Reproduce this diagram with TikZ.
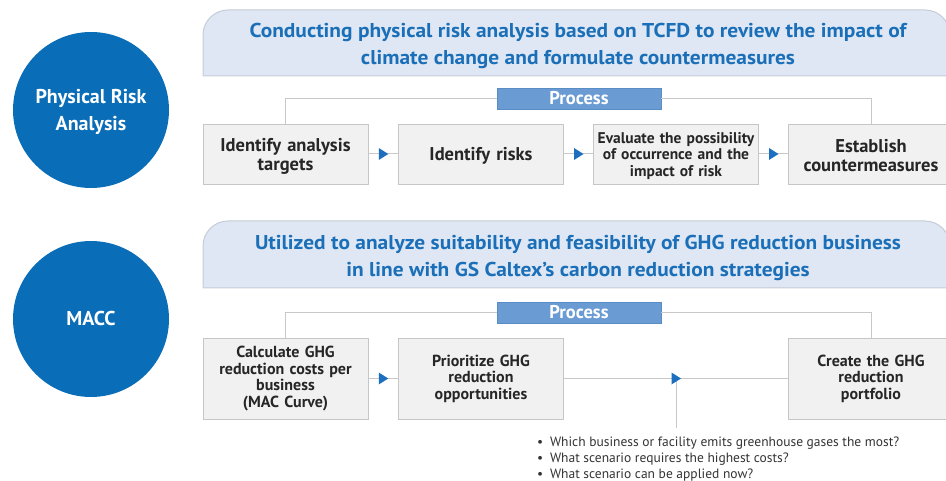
\documentclass[tikz,border=0pt]{standalone}
\usepackage{fontspec}
\setmainfont{PT Sans}
\newfontfamily\headfont[FakeStretch=1.07]{PT Sans}
\newcommand{\lowered}[2]{\raisebox{-#1}[\height][\depth]{#2}}
\begin{document}
\definecolor{circblue}{HTML}{0A6DB7}
\definecolor{bannerfill}{HTML}{DEE7F3}
\definecolor{bannerline}{HTML}{C5CCD6}
\definecolor{bannertext}{HTML}{1A6FB8}
\definecolor{procfill}{HTML}{6A9BD3}
\definecolor{procline}{HTML}{5A8CC6}
\definecolor{boxfill}{HTML}{F1F1F2}
\definecolor{boxline}{HTML}{C6C6C6}
\definecolor{linkgray}{HTML}{C8C8C8}
\definecolor{tipblue}{HTML}{1E6EC0}
\definecolor{bodytext}{HTML}{262626}
\definecolor{notetext}{HTML}{333333}
\begin{tikzpicture}[x=1pt,y=1pt,
  topic/.style={circle,fill=circblue,minimum size=156pt,inner sep=0pt},
  topiclabel/.style={text=white,align=center,inner sep=0pt,font=\fontsize{20}{27}\selectfont\bfseries},
  banner/.style={fill=bannerfill,draw=bannerline,line width=1pt},
  bannerlabel/.style={text=bannertext,align=center,font=\headfont\fontsize{20}{27}\selectfont\bfseries},
  procbox/.style={fill=procfill,draw=procline,line width=0.6pt,text=white,minimum width=164pt,
    minimum height=21pt,inner sep=0pt,font=\fontsize{18.5}{19}\selectfont\bfseries},
  stepbox/.style={fill=boxfill,draw=boxline,line width=0.8pt,text=bodytext,minimum width=165pt,
    inner sep=0pt,align=center,text width=163pt},
  bigstep/.style={stepbox,minimum height=60pt,font=\fontsize{18.5}{19}\selectfont\bfseries},
  maccstep/.style={stepbox,minimum height=81pt,font=\fontsize{16}{16.4}\selectfont\bfseries},
  link/.style={draw=linkgray,line width=1pt},
  tip/.style={fill=tipblue}]
\useasboundingbox (0,0) rectangle (946,-481);
\clip (0,0) rectangle (946,-481);

% ---- Physical risk analysis ----
\node[topic] (c1) at (91,-110) {};
\node[topiclabel] (c1t) at (91,-112) {Physical Risk\\Analysis};
\path[banner] (203,-76) -- (203,-35) arc (180:90:25) -- (925,-10) arc (90:0:25) -- (950,-76) -- cycle;
\node[bannerlabel] (h1) at (578,-45.5) {Conducting physical risk analysis based on TCFD to review the impact of\\climate change and formulate countermeasures};

\node[procbox] (p1) at (579,-98.5) {Process};
\node[bigstep] (a1) at (285.5,-154) {\lowered{2pt}{\parbox{163pt}{\centering Identify analysis\\targets}}};
\node[bigstep] (a2) at (481,-154) {\lowered{2pt}{Identify risks}};
\node[stepbox,minimum height=60pt,font=\fontsize{15.5}{16.5}\selectfont\bfseries] (a3) at (676,-154) {\lowered{2pt}{\parbox{163pt}{\centering Evaluate the possibility\\of occurrence and the\\impact of risk}}};
\node[bigstep] (a4) at (871,-154) {\lowered{2pt}{\parbox{163pt}{\centering Establish\\countermeasures}}};

\draw[link] (p1.west) -| (a1.north);
\draw[link] (p1.east) -| (a4.north);
\draw[link] (a1.east) -- coordinate (m1) (a2.west);
\draw[link] (a2.east) -- coordinate (m2) (a3.west);
\draw[link] (a3.east) -- coordinate (m3) (a4.west);
\foreach \m in {m1,m2,m3}
  \fill[tip,shift={(\m)}] (-4.5,6) -- (5,0) -- (-4.5,-6) -- cycle;

% ---- MACC ----
\node[topic] (c2) at (91,-319) {};
\node[topiclabel] (c2t) at (91,-319) {MACC};
\path[banner] (203,-288) -- (203,-246) arc (180:90:25) -- (925,-221) arc (90:0:25) -- (950,-288) -- cycle;
\node[bannerlabel] (h2) at (578,-257.5) {Utilized to analyze suitability and feasibility of GHG reduction business\\in line with GS Caltex’s carbon reduction strategies};

\node[procbox] (p2) at (579,-312.5) {Process};
\node[maccstep] (b1) at (285.5,-378.5) {Calculate GHG\\reduction costs per\\business\\(MAC Curve)};
\node[maccstep] (b2) at (481,-378.5) {Prioritize GHG\\reduction\\opportunities};
\node[maccstep] (b3) at (871,-378.5) {Create the GHG\\reduction\\portfolio};

\draw[link] (p2.west) -| (b1.north);
\draw[link] (p2.east) -| (b3.north);
\draw[link] (b1.east) -- coordinate (n1) (b2.west);
\draw[link] (b2.east) -- coordinate (n2) (b3.west);
\coordinate (q) at (676,-428);
\draw[link] (n2) -- (q);
\foreach \m in {n1,n2}
  \fill[tip,shift={(\m)}] (-4.5,6) -- (5,0) -- (-4.5,-6) -- cycle;

\node[anchor=north west,align=left,text=notetext,inner sep=0pt,font=\fontsize{13.5}{16}\selectfont] (qs) at (537,-437)
  {•\enspace Which business or facility emits greenhouse gases the most?\\
   •\enspace What scenario requires the highest costs?\\
   •\enspace What scenario can be applied now?};
\end{tikzpicture}
\end{document}
